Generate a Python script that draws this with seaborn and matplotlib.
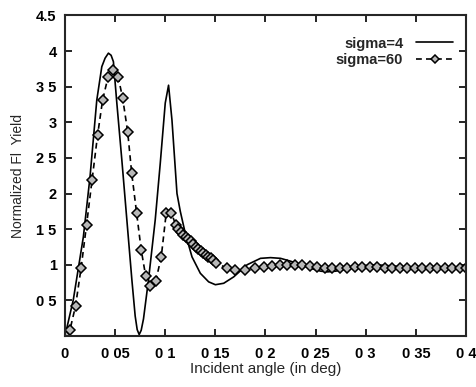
import numpy as np
import pandas as pd
import matplotlib
matplotlib.use("Agg")
import matplotlib.pyplot as plt
import seaborn as sns

# ---- data ----
x_s4 = [0.0, 0.0083, 0.0183, 0.025, 0.0317, 0.0367, 0.040, 0.0433, 0.046, 0.0483, 0.0517, 0.0567,
        0.0617, 0.0667, 0.070, 0.072, 0.074, 0.076, 0.0783, 0.0833, 0.090, 0.095, 0.100, 0.1033,
        0.1067, 0.1117, 0.115, 0.120, 0.1267, 0.135, 0.1433, 0.150, 0.1583, 0.1683,
        0.1817, 0.195, 0.205, 0.215, 0.225, 0.235, 0.245, 0.255, 0.262, 0.270,
        0.280, 0.290, 0.300, 0.310, 0.320, 0.330, 0.340, 0.350, 0.360, 0.380, 0.400]
y_s4 = [0.0, 0.51, 1.39, 2.24, 3.31, 3.78, 3.90, 3.97, 3.94, 3.85, 3.27, 2.47,
        1.63, 0.79, 0.28, 0.09, 0.02, 0.08, 0.24, 0.79, 1.63, 2.42, 3.27, 3.52,
        3.03, 2.00, 1.75, 1.44, 1.11, 0.88, 0.76, 0.72, 0.74, 0.83,
        1.00, 1.09, 1.10, 1.09, 1.05, 1.00, 0.95, 0.91, 0.90, 0.91,
        0.94, 0.97, 0.99, 1.00, 0.99, 0.98, 0.96, 0.95, 0.95, 0.95, 0.95]

x_s60 = [0.0, 0.005, 0.0105, 0.016, 0.0215, 0.027, 0.0325, 0.0375, 0.043, 0.0475,
         0.053, 0.0575, 0.0625, 0.0665, 0.0715, 0.076, 0.0805, 0.085, 0.0905, 0.096,
         0.101, 0.106, 0.1105, 0.113, 0.1155, 0.118, 0.1205, 0.123, 0.1255, 0.128,
         0.1305, 0.133, 0.1355, 0.138, 0.1405, 0.143, 0.1455, 0.148, 0.1505, 0.1617,
         0.170, 0.180, 0.190, 0.199, 0.2065, 0.214, 0.2215, 0.229, 0.2365, 0.244,
         0.2515, 0.259, 0.2665, 0.274, 0.2815, 0.289, 0.2965, 0.304, 0.3115, 0.319,
         0.3265, 0.334, 0.3415, 0.349, 0.3565, 0.364, 0.3715, 0.379, 0.3865, 0.394, 0.400]
y_s60 = [0.02, 0.09, 0.42, 0.95, 1.56, 2.19, 2.82, 3.31, 3.64, 3.74,
         3.64, 3.34, 2.87, 2.29, 1.72, 1.21, 0.84, 0.70, 0.77, 1.11,
         1.73, 1.73, 1.56, 1.50, 1.46, 1.42, 1.39, 1.36, 1.33, 1.29,
         1.25, 1.22, 1.20, 1.17, 1.14, 1.11, 1.09, 1.06, 1.03, 0.95,
         0.93, 0.93, 0.95, 0.97, 0.98, 0.99, 1.00, 1.00, 0.99, 0.98,
         0.97, 0.96, 0.96, 0.96, 0.96, 0.97, 0.97, 0.97, 0.97, 0.96,
         0.96, 0.96, 0.95, 0.95, 0.95, 0.95, 0.95, 0.95, 0.95, 0.95, 0.95]

x_ticks = [0, 0.05, 0.1, 0.15, 0.2, 0.25, 0.3, 0.35, 0.4]
x_ticklabels = ["0", "0 05", "0 1", "0 15", "0 2", "0 25", "0 3", "0 35", "0 4"]
y_ticks = [0.5, 1, 1.5, 2, 2.5, 3, 3.5, 4, 4.5]
y_ticklabels = ["0 5", "1", "1 5", "2", "2 5", "3", "3 5", "4", "4.5"]
series_labels = ["sigma=4", "sigma=60"]

# ---- plot ----
sns.set_style("ticks")
plt.rcParams["font.family"] = ["Liberation Sans", "DejaVu Sans"]

fig = plt.figure(figsize=(4.77, 3.87), dpi=100)
ax = fig.add_axes([65 / 477, 1 - 336 / 387, (466 - 65) / 477, (336 - 15.4) / 387])

df4 = pd.DataFrame({"x": x_s4, "y": y_s4})
df60 = pd.DataFrame({"x": x_s60, "y": y_s60})

sns.lineplot(data=df4, x="x", y="y", ax=ax, color="black", lw=1.2,
             estimator=None, sort=False, label=series_labels[0])
sns.lineplot(data=df60, x="x", y="y", ax=ax, color="black", lw=1.2,
             linestyle=(0, (3.5, 2.5)), marker="D", markersize=4.6,
             markerfacecolor="#b8b8b8", markeredgecolor="black", markeredgewidth=1.1,
             estimator=None, sort=False, label=series_labels[1])

ax.set_xlim(0, 0.4)
ax.set_ylim(0, 4.5)
ax.set_xticks(x_ticks)
ax.set_xticklabels(x_ticklabels)
ax.set_yticks(y_ticks)
ax.set_yticklabels(y_ticklabels)
ax.tick_params(direction="in", length=5, width=1.2, top=True, right=True,
               labelsize=10.5, colors="black")
ax.tick_params(axis="x", pad=8)
ax.tick_params(axis="y", pad=6)
for lab in ax.get_xticklabels() + ax.get_yticklabels():
    lab.set_fontweight("bold")
for s in ax.spines.values():
    s.set_linewidth(1.5)
    s.set_visible(True)

ax.set_xlabel("Incident angle (in deg)", fontsize=11, labelpad=1)
ax.set_ylabel("Normalized Fl  Yield", fontsize=10, labelpad=8)

leg = ax.legend(loc="upper right", bbox_to_anchor=(1.0, 0.975), frameon=False,
                markerfirst=False, handlelength=2.5, handletextpad=0.9,
                labelspacing=0.15, prop={"size": 10.5, "weight": "bold"},
                markerscale=0.8)

fig.savefig("out.png", dpi=100)
